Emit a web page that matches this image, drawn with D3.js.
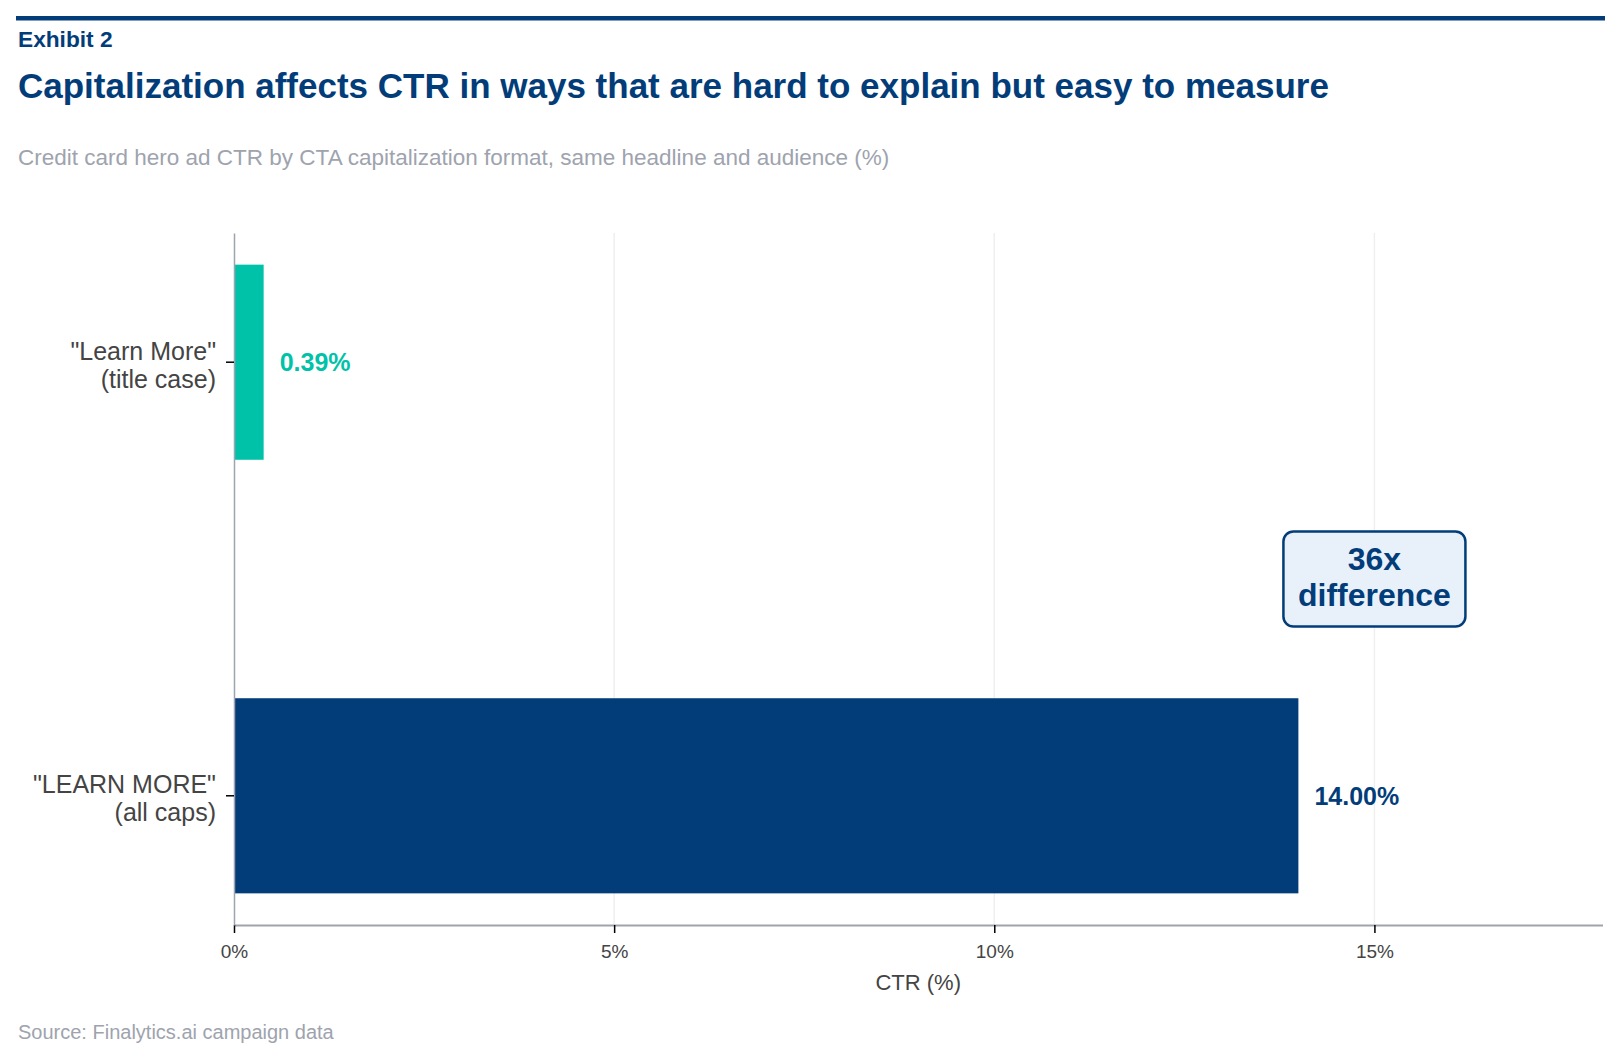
<!DOCTYPE html>
<html lang="en">
<head>
<meta charset="utf-8">
<title>Exhibit 2</title>
<script src="https://d3js.org/d3.v7.min.js"></script>
<style>
  body { margin: 0; background: #fff; }
  text { font-family: "Liberation Sans", Arial, sans-serif; }
</style>
</head>
<body>
<script type="text/javascript">

// Data
var categories = ['"Learn More"|(title case)', '"LEARN MORE"|(all caps)'];
var ctrValues = [0.39, 14.00];
var valueLabels = ["0.39%", "14.00%"];
var barColors = ["#00c2a8", "#023d7a"];
var xTicks = [0, 5, 10, 15];
var annotationLines = ["36x", "difference"];

var w = 1620, h = 1062;
var margin = {top: 233, right: 17.5, bottom: 137, left: 234};
var navy = "#023d7a";

var svg = d3.select("body").append("svg")
    .attr("width", w)
    .attr("height", h);

// header
svg.append("rect")
    .attr("x", 16).attr("y", 16)
    .attr("width", 1589).attr("height", 4.5)
    .attr("fill", navy);

svg.append("text")
    .attr("x", 18).attr("y", 47)
    .attr("font-size", 22.7).attr("font-weight", "bold")
    .attr("fill", navy)
    .text("Exhibit 2");

svg.append("text")
    .attr("x", 18).attr("y", 98)
    .attr("font-size", 35).attr("font-weight", "bold")
    .attr("fill", navy)
    .text("Capitalization affects CTR in ways that are hard to explain but easy to measure");

svg.append("text")
    .attr("x", 18).attr("y", 165)
    .attr("font-size", 22.5)
    .attr("fill", "#9ea3ae")
    .text("Credit card hero ad CTR by CTA capitalization format, same headline and audience (%)");

// scales
var x = d3.scaleLinear()
    .domain([0, 18])
    .range([margin.left, w - margin.right]);

var y = d3.scaleBand()
    .domain(categories)
    .range([margin.top, h - margin.bottom])
    .paddingInner(0.55)
    .paddingOuter(0.073);

var bottom = h - margin.bottom;

// gridlines
svg.append("g")
    .selectAll("line")
    .data(xTicks.filter(d => d > 0))
    .enter()
    .append("line")
    .attr("x1", d => x(d)).attr("x2", d => x(d))
    .attr("y1", margin.top).attr("y2", bottom)
    .attr("stroke", "#efefef")
    .attr("stroke-width", 1.5);

// bars
var rows = categories.map((c, i) => ({cat: c, v: ctrValues[i], label: valueLabels[i], color: barColors[i]}));

svg.append("g")
    .selectAll("rect")
    .data(rows)
    .enter()
    .append("rect")
    .attr("x", x(0))
    .attr("y", d => y(d.cat))
    .attr("width", d => x(d.v) - x(0))
    .attr("height", y.bandwidth())
    .attr("fill", d => d.color);

svg.append("g")
    .selectAll("text")
    .data(rows)
    .enter()
    .append("text")
    .attr("x", d => x(d.v) + 16)
    .attr("y", d => y(d.cat) + y.bandwidth() / 2)
    .attr("dy", "0.35em")
    .attr("font-size", 25).attr("font-weight", "bold")
    .attr("fill", d => d.color)
    .text(d => d.label);

// x axis
var xAxis = svg.append("g")
    .attr("transform", "translate(0," + bottom + ")")
    .call(d3.axisBottom(x).tickValues(xTicks).tickFormat(d => d + "%").tickSize(8).tickSizeOuter(0));
xAxis.select(".domain").attr("stroke", "#9ea3ae").attr("stroke-width", 2);
xAxis.selectAll(".tick line").attr("stroke", "#000").attr("stroke-width", 1.5);
xAxis.selectAll(".tick text")
    .attr("font-size", 19)
    .attr("fill", "#444")
    .attr("y", 33)
    .attr("dy", 0)
    .style("font-family", "'Liberation Sans', Arial, sans-serif");

// y axis
var yAxis = svg.append("g")
    .attr("transform", "translate(" + margin.left + ",0)")
    .call(d3.axisLeft(y).tickSize(8).tickSizeOuter(0).tickFormat(""));
yAxis.select(".domain").attr("stroke", "#9ea3ae").attr("stroke-width", 1.5);
yAxis.selectAll(".tick line").attr("stroke", "#000").attr("stroke-width", 1.5);

var catLabels = svg.append("g")
    .selectAll("text")
    .data(categories)
    .enter()
    .append("text")
    .attr("x", margin.left - 18)
    .attr("y", d => y(d) + y.bandwidth() / 2)
    .attr("text-anchor", "end")
    .attr("font-size", 25)
    .attr("fill", "#444");
catLabels.selectAll("tspan")
    .data(d => d.split("|").map((t, i) => ({t: t, i: i})))
    .enter()
    .append("tspan")
    .attr("x", margin.left - 18)
    .attr("dy", d => d.i === 0 ? "-0.1em" : "1.12em")
    .text(d => d.t);

// axis title
svg.append("text")
    .attr("x", (x(0) + x(18)) / 2)
    .attr("y", 990)
    .attr("text-anchor", "middle")
    .attr("font-size", 22)
    .attr("fill", "#444")
    .text("CTR (%)");

// annotation box
var boxCx = x(15), boxCy = (margin.top + bottom) / 2;
var boxW = 182, boxH = 95;
svg.append("rect")
    .attr("x", boxCx - boxW / 2).attr("y", boxCy - boxH / 2)
    .attr("width", boxW).attr("height", boxH)
    .attr("rx", 10).attr("ry", 10)
    .attr("fill", "#e8f1fa")
    .attr("stroke", navy)
    .attr("stroke-width", 2.5);

svg.append("g")
    .selectAll("text")
    .data(annotationLines)
    .enter()
    .append("text")
    .attr("x", boxCx)
    .attr("y", (d, i) => boxCy - 9 + i * 36)
    .attr("text-anchor", "middle")
    .attr("font-size", 32).attr("font-weight", "bold")
    .attr("fill", navy)
    .text(d => d);

// source
svg.append("text")
    .attr("x", 18).attr("y", 1039)
    .attr("font-size", 20)
    .attr("fill", "#9ea3ae")
    .text("Source: Finalytics.ai campaign data");

</script>
</body>
</html>
